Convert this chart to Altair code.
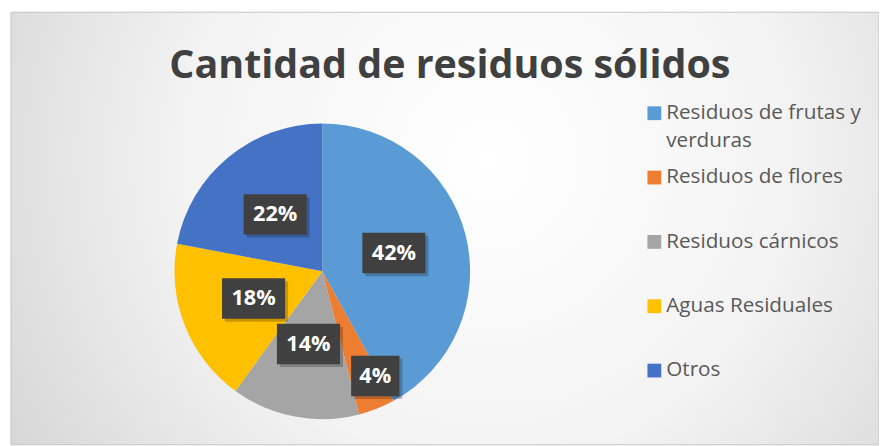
import altair as alt
import pandas as pd

# ---- data ----
categories = ["Residuos de frutas y verduras", "Residuos de flores", "Residuos cárnicos",
              "Aguas Residuales", "Otros"]
values = [42, 4, 14, 18, 22]
labels = ["42%", "4%", "14%", "18%", "22%"]
legend_lines = ["Residuos de frutas y\nverduras", "Residuos de flores", "Residuos cárnicos",
                "Aguas Residuales", "Otros"]
colors = ["#5B9BD5", "#ED7D31", "#A5A5A5", "#FFC000", "#4472C4"]
title_text = "Cantidad de residuos sólidos"

df = pd.DataFrame({"cat": categories, "value": values, "label": labels,
                   "legend": legend_lines, "idx": list(range(len(categories)))})

W, H = 884, 440
CX, CY, R = 319, 264, 150

color = alt.Color("cat:N", scale=alt.Scale(domain=categories, range=colors), legend=None)
one = pd.DataFrame({"a": [0]})

bg = alt.Chart(one).mark_rect(
    color=alt.Gradient(gradient="radial",
                       stops=[alt.GradientStop(color="#ffffff", offset=0),
                              alt.GradientStop(color="#f3f3f3", offset=0.45),
                              alt.GradientStop(color="#c9c9c9", offset=1)],
                       x1=0.55, y1=0.42, r1=0, x2=0.55, y2=0.42, r2=0.78),
    stroke="#c4c4c4", strokeWidth=1
).encode(x=alt.value(3), x2=alt.value(W), y=alt.value(1), y2=alt.value(H))

base = alt.Chart(df)

arc = base.mark_arc(outerRadius=R).encode(
    theta=alt.Theta("value:Q", stack=True),
    color=color,
    order=alt.Order("idx:Q"),
    x=alt.value(CX), y=alt.value(CY),
)

lab = base.transform_window(
    cum="sum(value)", sort=[alt.SortField("idx")], frame=[None, 0]
).transform_joinaggregate(total="sum(value)").transform_calculate(
    ang="(datum.cum - datum.value/2)/datum.total*2*PI + (datum.value < 10 ? -0.092 : 0)",
    r="datum.value < 10 ? 119 : 75",
    px=f"{CX} + datum.r*sin(datum.ang)",
    py=f"{CY} - datum.r*cos(datum.ang)",
    hw="length(datum.label) > 2 ? 32 : 24.5",
    bx1="datum.px - datum.hw", bx2="datum.px + datum.hw",
    by1="datum.py - 20.5", by2="datum.py + 20.5",
    sx1="datum.bx1 + 3", sx2="datum.bx2 + 3", sy1="datum.by1 + 3", sy2="datum.by2 + 3",
)

shadow = lab.mark_rect(color="#000000", opacity=0.22).encode(
    x=alt.X("sx1:Q", scale=None), x2="sx2:Q",
    y=alt.Y("sy1:Q", scale=None), y2="sy2:Q")

box = lab.mark_rect(color="#404040").encode(
    x=alt.X("bx1:Q", scale=None), x2="bx2:Q",
    y=alt.Y("by1:Q", scale=None), y2="by2:Q")

txt = lab.mark_text(font="Open Sans", fontWeight="bold", fontSize=22, color="white",
                    align="center", baseline="middle").encode(
    x=alt.X("px:Q", scale=None), y=alt.Y("py:Q", scale=None), text="label:N")

leg = base.transform_calculate(ly="103.5 + datum.idx*65.3")
leg_sq = leg.mark_square(size=196, opacity=1).encode(
    x=alt.value(656), y=alt.Y("ly:Q", scale=None), color=color)
leg_tx = leg.mark_text(align="left", baseline="middle", font="Open Sans", fontSize=21,
                       color="#595959", lineBreak="\n", lineHeight=28).encode(
    x=alt.value(668), y=alt.Y("ly:Q", scale=None), text="legend:N")

title = alt.Chart(one).mark_text(
    text=title_text, font="Open Sans", fontWeight="bold", fontSize=40,
    color="#404040", align="center", baseline="alphabetic"
).encode(x=alt.value(448.5), y=alt.value(67.5))

chart = alt.layer(bg, arc, shadow, box, txt, leg_sq, leg_tx, title).properties(
    width=W, height=H, padding=0, autosize=alt.AutoSizeParams(type="none"),
    background="white"
).configure_view(stroke=None)

chart.save("out.html", embed_options={"renderer": "svg", "actions": False})
